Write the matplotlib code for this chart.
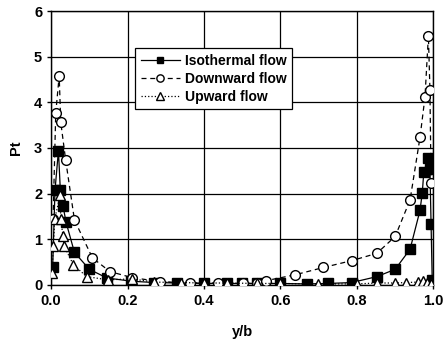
import matplotlib
matplotlib.use('Agg')
import matplotlib.pyplot as plt

plt.rcParams['font.family'] = ['Liberation Sans', 'DejaVu Sans']
plt.rcParams['font.weight'] = 'bold'

# Isothermal flow (filled squares, solid line)
iso_x = [0.004, 0.010, 0.019, 0.024, 0.031, 0.039, 0.061, 0.100, 0.146, 0.210, 0.270,
         0.330, 0.400, 0.460, 0.500, 0.540, 0.600, 0.669, 0.726, 0.787, 0.853, 0.901,
         0.940, 0.966, 0.972, 0.976, 0.988, 0.992, 0.995, 0.998]
iso_y = [0.40, 2.07, 2.94, 2.07, 1.73, 1.37, 0.71, 0.34, 0.15, 0.08, 0.05,
         0.04, 0.03, 0.03, 0.03, 0.03, 0.03, 0.02, 0.03, 0.05, 0.18, 0.34,
         0.78, 1.63, 2.02, 2.48, 2.77, 2.53, 1.33, 0.10]

# Downward flow (open circles, dashed line)
down_x = [0.005, 0.012, 0.021, 0.025, 0.038, 0.061, 0.108, 0.154, 0.211, 0.285, 0.364,
          0.438, 0.502, 0.538, 0.562, 0.639, 0.713, 0.787, 0.853, 0.901, 0.940,
          0.966, 0.979, 0.988, 0.992, 0.995]
down_y = [1.45, 3.77, 4.58, 3.57, 2.73, 1.42, 0.59, 0.29, 0.16, 0.07, 0.04,
          0.03, 0.03, 0.03, 0.09, 0.22, 0.38, 0.53, 0.69, 1.06, 1.86,
          3.23, 4.11, 5.46, 4.27, 2.24]

# Upward flow (open triangles, dotted line)
up_x = [0.002, 0.006, 0.009, 0.024, 0.025, 0.031, 0.034, 0.058, 0.093, 0.148, 0.211,
        0.270, 0.340, 0.400, 0.460, 0.540, 0.600, 0.700, 0.800, 0.853, 0.900,
        0.930, 0.960, 0.975, 0.985, 0.995]
up_y = [0.26, 0.85, 1.44, 1.97, 1.44, 1.07, 0.85, 0.44, 0.18, 0.11, 0.13,
        0.06, 0.05, 0.04, 0.04, 0.03, 0.03, 0.02, 0.02, 0.04, 0.04,
        0.05, 0.06, 0.08, 0.05, 0.02]

x_ticks = [0.0, 0.2, 0.4, 0.6, 0.8, 1.0]
y_ticks = [0, 1, 2, 3, 4, 5, 6]

fig = plt.figure(figsize=(4.45, 3.44), dpi=100)
ax = fig.add_axes([0.115, 0.172, 0.858, 0.796])

ax.plot(iso_x, iso_y, '-', color='black', lw=0.9, marker='s', ms=6.5,
        mfc='black', mec='black', label='Isothermal flow', zorder=3)
ax.plot(down_x, down_y, '--', color='black', lw=0.9, marker='o', ms=7,
        mfc='white', mec='black', mew=1.0, dashes=(4, 3), label='Downward flow', zorder=3)
ax.plot(up_x, up_y, ':', color='black', lw=0.9, marker='^', ms=7,
        mfc='white', mec='black', mew=1.0, label='Upward flow', zorder=3)

ax.set_xlim(0, 1.0)
ax.set_ylim(0, 6)
ax.set_xticks(x_ticks)
ax.set_yticks(y_ticks)
ax.set_xticklabels(['%.1f' % v for v in x_ticks])
ax.tick_params(labelsize=10.5, length=3, width=1)
for lab in ax.get_xticklabels() + ax.get_yticklabels():
    lab.set_fontweight('bold')
ax.grid(True, color='black', lw=0.9)
ax.set_axisbelow(True)
for s in ax.spines.values():
    s.set_linewidth(1.0)

ax.set_xlabel('y/b', fontsize=10.5, fontweight='bold', labelpad=12)
ax.set_ylabel('Pt', fontsize=10.5, fontweight='bold', labelpad=8)

leg = ax.legend(loc='upper left', bbox_to_anchor=(0.22, 0.865), borderaxespad=0,
                frameon=True, fancybox=False, edgecolor='black', framealpha=1,
                fontsize=10, handlelength=2.8, borderpad=0.4, labelspacing=0.3,
                handletextpad=0.4, markerscale=0.75)
leg.get_frame().set_linewidth(0.9)
for t in leg.get_texts():
    t.set_fontweight('bold')

fig.savefig('out.png', dpi=100)
